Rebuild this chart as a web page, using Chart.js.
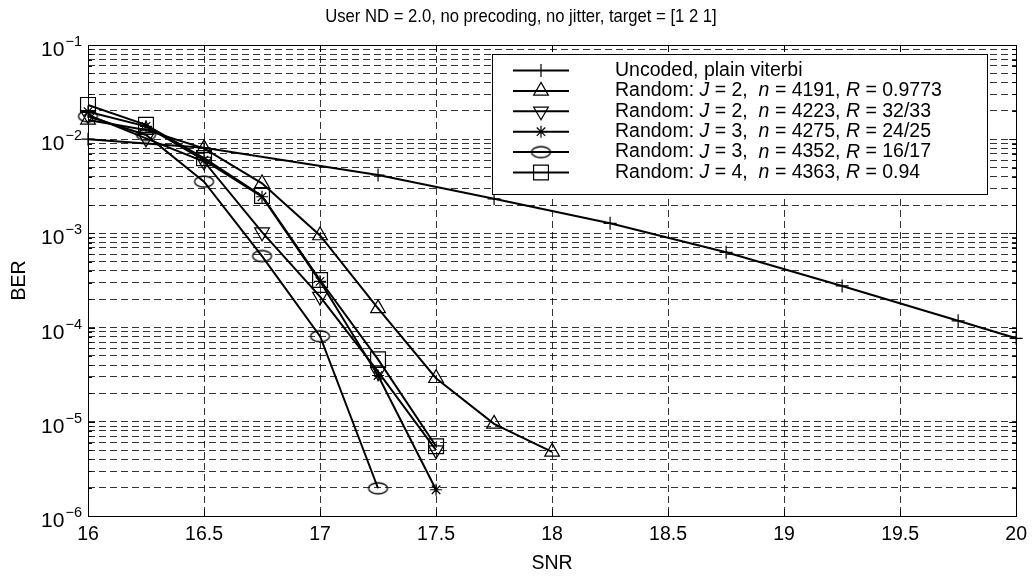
<!DOCTYPE html>
<html>
<head>
<meta charset="utf-8">
<title>BER vs SNR</title>
<script src="https://cdn.jsdelivr.net/npm/chart.js@4.4.1/dist/chart.umd.min.js"></script>
<style>
  html, body { margin: 0; padding: 0; background: #fff; }
  canvas { display: block; }
</style>
</head>
<body>
<canvas id="berChart" width="1034" height="577"></canvas>
<script>
const titleText = 'User ND = 2.0, no precoding, no jitter, target = [1 2 1]';
const snrTicks = [16, 16.5, 17, 17.5, 18, 18.5, 19, 19.5, 20];
const berDecades = [-6, -5, -4, -3, -2, -1];
const berMantissas = [1, 2, 3, 4, 5, 6, 7, 8, 9];

// uncoded, plain viterbi
const snrUncoded = [16, 16.5, 17.25, 17.75, 18.25, 18.75, 19.25, 19.75, 20];
const berUncoded = [1.0e-2, 8.1e-3, 4.17e-3, 2.33e-3, 1.28e-3, 6.3e-4, 2.77e-4, 1.18e-4, 7.7e-5];

// J=2, n=4191
const snrJ2a = [16, 16.25, 16.5, 16.75, 17, 17.25, 17.5, 17.75, 18];
const berJ2a = [1.6e-2, 1.25e-2, 8.0e-3, 3.4e-3, 9.5e-4, 1.6e-4, 2.9e-5, 9.5e-6, 4.8e-6];

// J=2, n=4223
const snrJ2b = [16, 16.25, 16.5, 16.75, 17, 17.25, 17.5];
const berJ2b = [1.81e-2, 1.02e-2, 5.8e-3, 1.03e-3, 2.13e-4, 3.4e-5, 5.0e-6];

// J=3, n=4275
const snrJ3a = [16, 16.25, 16.5, 16.75, 17, 17.25, 17.5];
const berJ3a = [1.96e-2, 1.37e-2, 6.0e-3, 2.45e-3, 3.1e-4, 3.1e-5, 1.9e-6];

// J=3, n=4352
const snrJ3b = [16, 16.25, 16.5, 16.75, 17, 17.25];
const berJ3b = [1.75e-2, 1.11e-2, 3.54e-3, 5.75e-4, 8.1e-5, 1.97e-6];

// J=4, n=4363
const snrJ4 = [16, 16.25, 16.5, 16.75, 17, 17.25, 17.5];
const berJ4 = [2.31e-2, 1.42e-2, 6.3e-3, 2.5e-3, 3.2e-4, 4.6e-5, 5.5e-6];

// legend texts, [text, italic]
const legendLabels = [
  [['Uncoded, plain viterbi', false]],
  [['Random: ', false], ['J', true], [' = 2,  ', false], ['n', true], [' = 4191, ', false], ['R', true], [' = 0.9773', false]],
  [['Random: ', false], ['J', true], [' = 2,  ', false], ['n', true], [' = 4223, ', false], ['R', true], [' = 32/33', false]],
  [['Random: ', false], ['J', true], [' = 3,  ', false], ['n', true], [' = 4275, ', false], ['R', true], [' = 24/25', false]],
  [['Random: ', false], ['J', true], [' = 3,  ', false], ['n', true], [' = 4352, ', false], ['R', true], [' = 16/17', false]],
  [['Random: ', false], ['J', true], [' = 4,  ', false], ['n', true], [' = 4363, ', false], ['R', true], [' = 0.94', false]]
];

const FONT = '"Liberation Sans", Arial, Helvetica, sans-serif';
const FS = 19.5;

// open ellipse marker (the 'o' marker comes out stretched in this figure)
function ellipseMarker(w, h) {
  const c = document.createElement('canvas');
  c.width = w + 4; c.height = h + 4;
  const g = c.getContext('2d');
  g.strokeStyle = '#000';
  g.lineWidth = 1.3;
  g.beginPath();
  g.ellipse(c.width / 2, c.height / 2, w / 2, h / 2, 0, 0, Math.PI * 2);
  g.stroke();
  return c;
}
const ovalImg = ellipseMarker(19, 11);

const markers = [
  { pointStyle: 'cross', radius: 6.5, rotation: 0 },
  { pointStyle: 'triangle', radius: 8.5, rotation: 0 },
  { pointStyle: 'triangle', radius: 8.5, rotation: 180 },
  { pointStyle: 'star', radius: 6, rotation: 0 },
  { pointStyle: ovalImg, radius: 9, rotation: 0 },
  { pointStyle: 'rect', radius: 10.5, rotation: 0 }
];

const series = [
  [snrUncoded, berUncoded],
  [snrJ2a, berJ2a],
  [snrJ2b, berJ2b],
  [snrJ3a, berJ3a],
  [snrJ3b, berJ3b],
  [snrJ4, berJ4]
];

const datasets = series.map(([xs, ys], i) => ({
  label: legendLabels[i].map(s => s[0]).join(''),
  data: xs.map((x, k) => ({ x: x, y: ys[k] })),
  borderColor: '#000',
  borderWidth: 2,
  tension: 0,
  fill: false,
  clip: false,
  pointStyle: markers[i].pointStyle,
  pointRadius: markers[i].radius,
  pointRotation: markers[i].rotation,
  pointBorderWidth: 1.2,
  pointBorderColor: '#000',
  pointBackgroundColor: 'rgba(0,0,0,0)'
}));

function marker(ctx, m, x, y) {
  ctx.save();
  ctx.strokeStyle = '#000';
  ctx.fillStyle = 'rgba(0,0,0,0)';
  ctx.lineWidth = 1.2;
  Chart.helpers.drawPoint(ctx, { pointStyle: m.pointStyle, radius: m.radius, rotation: m.rotation, borderWidth: 1.2 }, x, y);
  ctx.restore();
}

// title, axes box, inward ticks, y labels as powers of ten, legend
const framePlugin = {
  id: 'frame',
  afterDraw(chart) {
    const { ctx, chartArea: a, scales } = chart;
    const xs = scales.x, ys = scales.y;
    ctx.save();

    // title is set in a narrow face
    ctx.save();
    ctx.fillStyle = '#000';
    ctx.font = '18.5px ' + FONT;
    ctx.textAlign = 'center';
    ctx.textBaseline = 'middle';
    ctx.translate(521, 17);
    ctx.scale(0.9, 1);
    ctx.fillText(titleText, 0, 0);
    ctx.restore();

    ctx.strokeStyle = '#000';
    ctx.lineWidth = 1;
    ctx.setLineDash([]);
    ctx.strokeRect(Math.round(a.left) + 0.5, Math.round(a.top) + 0.5,
      Math.round(a.right - a.left), Math.round(a.bottom - a.top));

    ctx.beginPath();
    snrTicks.forEach(v => {
      const px = Math.round(xs.getPixelForValue(v)) + 0.5;
      ctx.moveTo(px, a.bottom); ctx.lineTo(px, a.bottom - 7);
      ctx.moveTo(px, a.top); ctx.lineTo(px, a.top + 7);
    });
    ys.ticks.forEach(t => {
      const py = Math.round(ys.getPixelForValue(t.value)) + 0.5;
      const major = Math.abs(Math.log10(t.value) - Math.round(Math.log10(t.value))) < 1e-9;
      const len = major ? 7 : 4;
      ctx.moveTo(a.left, py); ctx.lineTo(a.left + len, py);
      ctx.moveTo(a.right, py); ctx.lineTo(a.right - len, py);
    });
    ctx.stroke();

    // 10^k labels
    ctx.fillStyle = '#000';
    ctx.textAlign = 'left';
    ctx.textBaseline = 'alphabetic';
    berDecades.forEach(e => {
      const py = ys.getPixelForValue(Math.pow(10, e));
      const base = '10', sup = '\u2212' + Math.abs(e);
      ctx.font = '21px ' + FONT;
      const wb = ctx.measureText(base).width;
      ctx.font = '14.5px ' + FONT;
      const ws = ctx.measureText(sup).width;
      const x0 = 82 - wb - ws - 1;
      ctx.font = '21px ' + FONT;
      ctx.fillText(base, x0, py + 11);
      ctx.font = '14.5px ' + FONT;
      ctx.fillText(sup, x0 + wb + 1, py + 1);
    });

    // legend
    const box = { l: 492, t: 54, r: 987, b: 194 };
    ctx.fillStyle = '#fff';
    ctx.fillRect(box.l, box.t, box.r - box.l, box.b - box.t);
    ctx.strokeStyle = '#000';
    ctx.lineWidth = 1;
    ctx.strokeRect(box.l + 0.5, box.t + 0.5, box.r - box.l, box.b - box.t);
    legendLabels.forEach((parts, i) => {
      const y = 70.5 + i * 20.4;
      ctx.strokeStyle = '#000';
      ctx.lineWidth = 2;
      ctx.beginPath();
      ctx.moveTo(513, y); ctx.lineTo(569, y);
      ctx.stroke();
      marker(ctx, markers[i], 541, y);
      let x = 615;
      ctx.fillStyle = '#000';
      ctx.textBaseline = 'middle';
      parts.forEach(([txt, it]) => {
        ctx.font = (it ? 'italic ' : '') + FS + 'px ' + FONT;
        ctx.fillText(txt, x, y);
        x += ctx.measureText(txt).width;
      });
    });
    ctx.restore();
  }
};

const gridStyle = { color: 'rgba(0,0,0,0.8)', lineWidth: 1, drawTicks: false };

new Chart(document.getElementById('berChart'), {
  type: 'line',
  data: { datasets: datasets },
  options: {
    responsive: false,
    animation: false,
    events: [],
    layout: { padding: { left: 0, right: 14, top: 45, bottom: 0 } },
    plugins: {
      legend: { display: false },
      tooltip: { enabled: false },
      title: { display: false }
    },
    scales: {
      x: {
        type: 'linear',
        min: 16,
        max: 20,
        afterBuildTicks: s => { s.ticks = snrTicks.map(v => ({ value: v })); },
        afterFit: s => { s.height = 61; },
        grid: gridStyle,
        border: { display: false, dash: [7, 4] },
        ticks: {
          color: '#000',
          padding: 7,
          maxRotation: 0,
          autoSkip: false,
          font: { family: FONT, size: FS },
          callback: v => String(v)
        },
        title: {
          display: true,
          text: 'SNR',
          color: '#000',
          font: { family: FONT, size: FS },
          padding: { top: 0, bottom: 2 }
        }
      },
      y: {
        type: 'logarithmic',
        min: 1e-6,
        max: 1e-1,
        afterBuildTicks: s => {
          const t = [];
          berDecades.forEach(e => berMantissas.forEach(m => {
            const v = m * Math.pow(10, e);
            if (v <= 0.1000001) t.push({ value: v });
          }));
          t.push({ value: 1e-1 });
          s.ticks = t;
        },
        afterFit: s => { s.width = 88; },
        grid: gridStyle,
        border: { display: false, dash: [7, 4] },
        ticks: { display: false },
        title: {
          display: true,
          text: 'BER',
          color: '#000',
          font: { family: FONT, size: FS },
          padding: { top: 8, bottom: 0 }
        }
      }
    }
  },
  plugins: [framePlugin]
});
</script>
</body>
</html>
